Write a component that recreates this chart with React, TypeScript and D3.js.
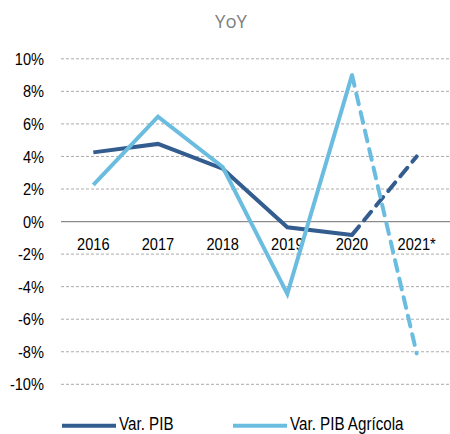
import React from "react";
import * as d3 from "d3";

const categories = ["2016", "2017", "2018", "2019", "2020", "2021*"];
const pib = [4.25, 4.77, 3.25, -0.35, -0.82, 4.0];
const pibAgricola = [2.25, 6.44, 3.35, -4.44, 9.0, -8.1];
const yTicks = [10, 8, 6, 4, 2, 0, -2, -4, -6, -8, -10];
const seriesNames = ["Var. PIB", "Var. PIB Agrícola"];
const colors = ["#335c8f", "#6bbde0"];

const W = 450;
const H = 434;
const FONT = "'Liberation Sans', Arial, sans-serif";

function NarrowText(props: {
  x: number;
  y: number;
  size: number;
  sx: number;
  anchor?: "start" | "middle" | "end";
  dy?: string;
  children: React.ReactNode;
}) {
  return (
    <text
      transform={`translate(${props.x},${props.y}) scale(${props.sx},1)`}
      dy={props.dy}
      textAnchor={props.anchor || "start"}
      fontFamily={FONT}
      fontSize={props.size}
      fill="#000"
    >
      {props.children}
    </text>
  );
}

export default function App() {
  const x = d3.scaleBand<string>().domain(categories).range([61, 449]);
  const y = d3.scaleLinear().domain([-10, 10]).range([384.3, 58.8]);
  const cx = (c: string) => (x(c) as number) + x.bandwidth() / 2;
  const line = d3
    .line<[string, number]>()
    .x((d) => cx(d[0]))
    .y((d) => y(d[1]));

  const series = [pib, pibAgricola];
  const n = categories.length;

  return (
    <svg
      width={W}
      height={H}
      style={{ position: "absolute", left: 0, top: 0, background: "#fff" }}
    >
      <text
        x={231}
        y={27.5}
        textAnchor="middle"
        fontFamily="'Open Sans', sans-serif"
        fontSize={18.5}
        fill="#7f7f7f"
      >
        YoY
      </text>
      {yTicks.map((t) => (
        <g key={t}>
          <line
            x1={61}
            x2={450}
            y1={y(t)}
            y2={y(t)}
            stroke={t === 0 ? "#8c8c8c" : "#ababab"}
            strokeWidth={t === 0 ? 1.3 : 1}
            strokeDasharray={t === 0 ? undefined : "3 2"}
          />
          <NarrowText x={44} y={y(t)} dy="0.36em" size={17} sx={0.86} anchor="end">
            {`${t}%`}
          </NarrowText>
        </g>
      ))}
      {categories.map((c) => (
        <NarrowText key={c} x={cx(c)} y={250} size={17} sx={0.86} anchor="middle">
          {c}
        </NarrowText>
      ))}
      {series.map((s, i) => {
        const pts: [string, number][] = categories.map((c, j) => [c, s[j]]);
        return (
          <g key={i}>
            <path
              d={line(pts.slice(0, n - 1)) || ""}
              fill="none"
              stroke={colors[i]}
              strokeWidth={4}
              strokeLinejoin="miter"
            />
            <path
              d={line(pts.slice(n - 2)) || ""}
              fill="none"
              stroke={colors[i]}
              strokeWidth={4}
              strokeDasharray="11 8"
              strokeLinecap="round"
            />
          </g>
        );
      })}
      {seriesNames.map((name, i) => {
        const lx = i === 0 ? 62 : 233;
        return (
          <g key={name}>
            <line
              x1={lx}
              x2={lx + 54}
              y1={425.7}
              y2={425.7}
              stroke={colors[i]}
              strokeWidth={4}
            />
            <NarrowText x={lx + 57} y={430} size={18.5} sx={0.82}>
              {name}
            </NarrowText>
          </g>
        );
      })}
    </svg>
  );
}
